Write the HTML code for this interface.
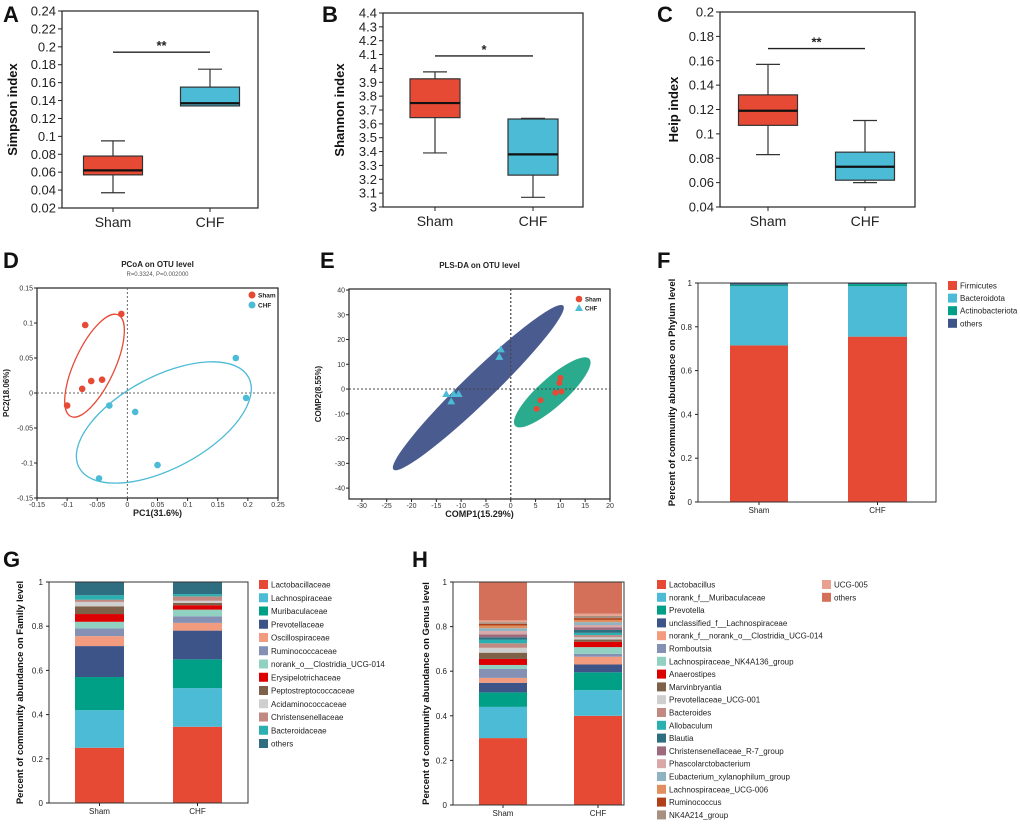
<!DOCTYPE html>
<html><head><meta charset="utf-8"><style>
body{margin:0;background:#fff}
svg{display:block;font-family:"Liberation Sans",Arial,sans-serif}
</style></head><body>
<svg id="fig" width="1020" height="824" viewBox="0 0 1020 824" xmlns="http://www.w3.org/2000/svg"></svg>
<script>
// ---------- DATA ----------
const boxGroups = ['Sham','CHF'];
// [whiskerLow, q1, median, q3, whiskerHigh]
const simpsonSham = [0.037,0.057,0.062,0.078,0.095];
const simpsonCHF  = [0.134,0.134,0.137,0.155,0.175];
const shannonSham = [3.39,3.645,3.75,3.925,3.975];
const shannonCHF  = [3.07,3.23,3.38,3.635,3.64];
const heipSham = [0.083,0.107,0.119,0.132,0.157];
const heipCHF  = [0.060,0.062,0.073,0.085,0.111];
const simpsonTicks = [0.02,0.04,0.06,0.08,0.1,0.12,0.14,0.16,0.18,0.2,0.22,0.24];
const shannonTicks = [3,3.1,3.2,3.3,3.4,3.5,3.6,3.7,3.8,3.9,4,4.1,4.2,4.3,4.4];
const heipTicks = [0.04,0.06,0.08,0.1,0.12,0.14,0.16,0.18,0.2];
const sigLevels = [0.194,4.09,0.170];
const sigLabels = ['**','*','**'];

const pcoaShamX = [-0.01,-0.07,-0.06,-0.042,-0.075,-0.1];
const pcoaShamY = [0.113,0.097,0.017,0.019,0.006,-0.018];
const pcoaChfX = [0.18,0.197,-0.03,0.013,0.05,-0.047];
const pcoaChfY = [0.05,-0.007,-0.018,-0.027,-0.103,-0.122];
const pcoaXTicks = [-0.15,-0.1,-0.05,0,0.05,0.1,0.15,0.2,0.25];
const pcoaYTicks = [-0.15,-0.1,-0.05,0,0.05,0.1,0.15];

const plsShamX = [10,9.8,9,10.2,6,5.2];
const plsShamY = [4.5,2.5,-1.5,-1,-4.5,-8];
const plsChfX = [-13,-12,-11.5,-10.5,-2,-2.3];
const plsChfY = [-2,-5,-2,-2,16,13];
const plsXTicks = [-30,-25,-20,-15,-10,-5,0,5,10,15,20];
const plsYTicks = [-40,-30,-20,-10,0,10,20,30,40];

const phylumNames = ['Firmicutes','Bacteroidota','Actinobacteriota','others'];
const phylumSham = [0.715,0.270,0.007,0.008];
const phylumCHF  = [0.755,0.230,0.010,0.005];

const familyNames = ['Lactobacillaceae','Lachnospiraceae','Muribaculaceae','Prevotellaceae','Oscillospiraceae','Ruminococcaceae','norank_o__Clostridia_UCG-014','Erysipelotrichaceae','Peptostreptococcaceae','Acidaminococcaceae','Christensenellaceae','Bacteroidaceae','others'];
const familySham = [0.25,0.17,0.15,0.14,0.045,0.035,0.03,0.035,0.035,0.02,0.01,0.02,0.06];
const familyCHF  = [0.345,0.175,0.13,0.13,0.035,0.03,0.03,0.02,0.01,0.01,0.02,0.01,0.055];

const genusNames = ['Lactobacillus','norank_f__Muribaculaceae','Prevotella','unclassified_f__Lachnospiraceae','norank_f__norank_o__Clostridia_UCG-014','Romboutsia','Lachnospiraceae_NK4A136_group','Anaerostipes','Marvinbryantia','Prevotellaceae_UCG-001','Bacteroides','Allobaculum','Blautia','Christensenellaceae_R-7_group','Phascolarctobacterium','Eubacterium_xylanophilum_group','Lachnospiraceae_UCG-006','Ruminococcus','NK4A214_group','UCG-005','others'];
const genusSham = [0.30,0.14,0.065,0.043,0.022,0.04,0.018,0.027,0.028,0.022,0.02,0.017,0.01,0.013,0.015,0.013,0.012,0.007,0.008,0.008,0.172];
const genusCHF  = [0.40,0.115,0.08,0.035,0.035,0.013,0.03,0.024,0.01,0.01,0.01,0.01,0.013,0.012,0.01,0.013,0.01,0.008,0.01,0.01,0.142];
const fracTicks = [0,0.2,0.4,0.6,0.8,1];

// ---------- helpers ----------
const NS='http://www.w3.org/2000/svg';
const svg=document.getElementById('fig');
function el(tag,a,parent,txt){const e=document.createElementNS(NS,tag);for(const k in a)e.setAttribute(k,a[k]);if(txt!==undefined)e.textContent=txt;(parent||svg).appendChild(e);return e;}
function lin(d0,d1,r0,r1){return v=>r0+(v-d0)/(d1-d0)*(r1-r0);}
function fmt(v){return String(+v.toFixed(4));}
const famColors=['#e64a35','#4cbbd6','#00a087','#3c5488','#f39b7f','#8491b4','#91d1c2','#dc0000','#7e6148','#cfcfcf','#c08a82','#2ab0b0','#2e6e80'];
const genColors=['#e64a35','#4cbbd6','#00a087','#3c5488','#f39b7f','#8491b4','#91d1c2','#dc0000','#7e6148','#cfcfcf','#c08a82','#2ab0b0','#2e6e80','#9c6a7c','#d9a8a8','#8fb3c0','#e0905e','#b0401a','#a89080','#e8a090','#d4705a'];
const phyColors=['#e64a35','#4cbbd6','#00a087','#3c5488'];

function letter(t,x,y){const e=el('text',{x:x,y:y,'font-size':22,'font-weight':'bold',fill:'#111'},svg,t);

}

// ---------- box plots ----------
function boxPanel(id,L,R,T,B,ticks,sham,chf,cx,bw,sig,sigLab,ylab,ylx){
  const g=el('g',{});
  
  
  const y=lin(ticks[0],ticks[ticks.length-1],B,T);
  el('rect',{x:L,y:T,width:R-L,height:B-T,fill:'none',stroke:'#222','stroke-width':1.2},g);
  ticks.forEach(t=>{el('line',{x1:L-4,x2:L,y1:y(t),y2:y(t),stroke:'#222'},g);
    const tl=el('text',{x:L-6,y:y(t)+4.5,'text-anchor':'end','font-size':13,fill:'#222'},g,fmt(t));
    
    });
  [sham,chf].forEach((d,i)=>{
    const c=cx[i];
    el('line',{x1:c,x2:c,y1:y(d[0]),y2:y(d[4]),stroke:'#333','stroke-width':1.2},g);
    el('line',{x1:c-12,x2:c+12,y1:y(d[0]),y2:y(d[0]),stroke:'#333','stroke-width':1.2},g);
    el('line',{x1:c-12,x2:c+12,y1:y(d[4]),y2:y(d[4]),stroke:'#333','stroke-width':1.2},g);
    const b=el('rect',{x:c-bw/2,y:y(d[3]),width:bw,height:y(d[1])-y(d[3]),fill:i?'#4cbbd6':'#e64a35',stroke:'#333','stroke-width':1.2},g);
    
    
    el('line',{x1:c-bw/2,x2:c+bw/2,y1:y(d[2]),y2:y(d[2]),stroke:'#111','stroke-width':2.2},g);
    el('line',{x1:c,x2:c,y1:B,y2:B+4,stroke:'#222'},g);
    const xl=el('text',{x:c,y:B+19,'text-anchor':'middle','font-size':14,fill:'#222'},g,boxGroups[i]);
    
    
  });
  el('line',{x1:cx[0],x2:cx[1],y1:y(sig),y2:y(sig),stroke:'#222','stroke-width':1.3},g);
  const st=el('text',{x:(cx[0]+cx[1])/2,y:y(sig)-2,'text-anchor':'middle','font-size':13,'font-weight':'bold',fill:'#222'},g,sigLab);
  
  
  const yt=el('text',{x:ylx,y:(T+B)/2,'text-anchor':'middle','font-size':13,'font-weight':'bold',fill:'#111',transform:`rotate(-90 ${ylx} ${(T+B)/2})`},g,ylab);
  
  
}
boxPanel('simpson',62,258,11,208,simpsonTicks,simpsonSham,simpsonCHF,[113,210],59,sigLevels[0],sigLabels[0],'Simpson index',17);
boxPanel('shannon',383,583,13,207,shannonTicks,shannonSham,shannonCHF,[435,533],50,sigLevels[1],sigLabels[1],'Shannon index',344);
boxPanel('heip',720,915,12,207,heipTicks,heipSham,heipCHF,[768,865],59,sigLevels[2],sigLabels[2],'Heip index',678);
letter('A',3,22);letter('B',322,22);letter('C',657,22);

// ---------- scatter panels ----------
function scatterPanel(id,L,R,T,B,xd,yd,xt,yt,xlab,ylab,title,sub){
  const g=el('g',{});
  
  
  const x=lin(xd[0],xd[1],L,R), y=lin(yd[0],yd[1],B,T);
  el('rect',{x:L,y:T,width:R-L,height:B-T,fill:'none',stroke:'#222','stroke-width':1.2},g);
  xt.forEach(t=>{el('line',{x1:x(t),x2:x(t),y1:B,y2:B+3,stroke:'#222'},g);
    const e=el('text',{x:x(t),y:B+9,'text-anchor':'middle','font-size':7,fill:'#333'},g,fmt(t));
    
    });
  yt.forEach(t=>{el('line',{x1:L-3,x2:L,y1:y(t),y2:y(t),stroke:'#222'},g);
    const e=el('text',{x:L-4,y:y(t)+2.5,'text-anchor':'end','font-size':7,fill:'#333'},g,fmt(t));
    
    });
  el('line',{x1:x(0),x2:x(0),y1:T,y2:B,stroke:'#666','stroke-dasharray':'2,2'},g);
  el('line',{x1:L,x2:R,y1:y(0),y2:y(0),stroke:'#666','stroke-dasharray':'2,2'},g);
  const xa=el('text',{x:(L+R)/2,y:B+18,'text-anchor':'middle','font-size':9,'font-weight':'bold',fill:'#222'},g,xlab);
  
  
  const yc=(T+B)/2, yx=L-28;
  const ya=el('text',{x:yx,y:yc,'text-anchor':'middle','font-size':8,'font-weight':'bold',fill:'#222',transform:`rotate(-90 ${yx} ${yc})`},g,ylab);
  
  
  const tt=el('text',{x:(L+R)/2,y:T-21,'text-anchor':'middle','font-size':8,'font-weight':'bold',fill:'#222'},g,title);
  
  
  if(sub){const s=el('text',{x:(L+R)/2,y:T-12,'text-anchor':'middle','font-size':6,fill:'#555'},g,sub);
    
    }
  return {g,x,y};
}
function mean(a){return a.reduce((s,v)=>s+v,0)/a.length;}
// D PCoA
{
 const p=scatterPanel('pcoa',37,278,288,498,[-0.15,0.25],[-0.15,0.15],pcoaXTicks,pcoaYTicks,'PC1(31.6%)','PC2(18.06%)','PCoA on OTU level','R=0.3324, P=0.002000');
 const cs=[p.x(mean(pcoaShamX)),p.y(mean(pcoaShamY))], cc=[p.x(mean(pcoaChfX)),p.y(mean(pcoaChfY))];
 const e1=el('ellipse',{cx:cs[0]+3,cy:cs[1],rx:56,ry:20,fill:'none',stroke:'#e64a35','stroke-width':1.3,transform:`rotate(-65 ${cs[0]+3} ${cs[1]})`},p.g);
 
 
 const e2=el('ellipse',{cx:cc[0],cy:cc[1]+3,rx:96,ry:46,fill:'none',stroke:'#4cbbd6','stroke-width':1.3,transform:`rotate(-28 ${cc[0]} ${cc[1]+3})`},p.g);
 
 
 pcoaShamX.forEach((v,i)=>{const c=el('circle',{cx:p.x(v),cy:p.y(pcoaShamY[i]),r:3.3,fill:'#e64a35'},p.g);
   
   });
 pcoaChfX.forEach((v,i)=>{const c=el('circle',{cx:p.x(v),cy:p.y(pcoaChfY[i]),r:3.3,fill:'#4cbbd6'},p.g);
   
   });
 el('circle',{cx:252,cy:295,r:3.5,fill:'#e64a35'},p.g);
 const l1=el('text',{x:258,y:297.5,'font-size':6.5,'font-weight':'bold',fill:'#222'},p.g,'Sham');
 
 
 el('circle',{cx:252,cy:305,r:3.5,fill:'#4cbbd6'},p.g);
 const l2=el('text',{x:258,y:307.5,'font-size':6.5,'font-weight':'bold',fill:'#222'},p.g,'CHF');
 
 
}
// E PLS-DA
{
 const p=scatterPanel('plsda',349,610,289,499,[-32.6,20],[-44.4,40.4],plsXTicks,plsYTicks,'COMP1(15.29%)','COMP2(8.55%)','PLS-DA on OTU level','');
 const cb=[p.x(mean(plsChfX))+10,p.y(mean(plsChfY))+6];
 const e1=el('ellipse',{cx:cb[0],cy:cb[1],rx:118,ry:15,fill:'#4a5b8f',transform:`rotate(-44 ${cb[0]} ${cb[1]})`},p.g);
 
 
 const cg=[p.x(mean(plsShamX)),p.y(mean(plsShamY))];
 const e2=el('ellipse',{cx:cg[0],cy:cg[1],rx:50,ry:14,fill:'#2aab8e',transform:`rotate(-42 ${cg[0]} ${cg[1]})`},p.g);
 
 
 el('line',{x1:p.x(0),x2:p.x(0),y1:289,y2:499,stroke:'#444','stroke-dasharray':'2,2'},p.g);
 el('line',{x1:349,x2:610,y1:p.y(0),y2:p.y(0),stroke:'#444','stroke-dasharray':'2,2'},p.g);
 plsShamX.forEach((v,i)=>{const c=el('circle',{cx:p.x(v),cy:p.y(plsShamY[i]),r:3,fill:'#e64a35'},p.g);
   
   });
 plsChfX.forEach((v,i)=>{const X=p.x(v),Y=p.y(plsChfY[i]);
   const t=el('polygon',{points:`${X},${Y-4} ${X-4},${Y+3} ${X+4},${Y+3}`,fill:'#4cbbd6'},p.g);
   
   });
 el('circle',{cx:579,cy:299,r:3.3,fill:'#e64a35'},p.g);
 const l1=el('text',{x:585,y:301.5,'font-size':6,'font-weight':'bold',fill:'#222'},p.g,'Sham');
 
 
 el('polygon',{points:'579,304 575,311 583,311',fill:'#4cbbd6'},p.g);
 const l2=el('text',{x:585,y:310.5,'font-size':6,'font-weight':'bold',fill:'#222'},p.g,'CHF');
 
 
}
letter('D',3,268);letter('E',320,268);letter('F',657,268);

// ---------- stacked bars ----------
function stackPanel(id,L,R,T,B,bars,names,series,colors,ylab,ylx,legX,legY,legStep,col2Start,col2X){
  const g=el('g',{});
  
  
  const y=lin(0,1,B,T);
  ['Sham','CHF'].forEach((gname,bi)=>{
    let acc=0;
    series[bi].forEach((v,k)=>{
      const r=el('rect',{x:bars[bi][0],y:y(acc+v),width:bars[bi][1]-bars[bi][0],height:y(acc)-y(acc+v),fill:colors[k]},g);
      
      
      acc+=v;});
    const c=(bars[bi][0]+bars[bi][1])/2;
    el('line',{x1:c,x2:c,y1:B,y2:B+3,stroke:'#222'},g);
    const xl=el('text',{x:c,y:B+11,'text-anchor':'middle','font-size':8,fill:'#222'},g,gname);
    
    
  });
  el('rect',{x:L,y:T,width:R-L,height:B-T,fill:'none',stroke:'#333','stroke-width':1},g);
  fracTicks.forEach(t=>{el('line',{x1:L-3,x2:L,y1:y(t),y2:y(t),stroke:'#222'},g);
    const e=el('text',{x:L-6,y:y(t)+3,'text-anchor':'end','font-size':8,fill:'#222'},g,fmt(t));
    
    });
  const yc=(T+B)/2;
  const ya=el('text',{x:ylx,y:yc,'text-anchor':'middle','font-size':9.5,'font-weight':'bold',fill:'#111',transform:`rotate(-90 ${ylx} ${yc})`},g,ylab);
  
  
  names.forEach((n,k)=>{
    let lx=legX, ly=legY+k*legStep;
    if(col2Start!==undefined && k>=col2Start){lx=col2X; ly=legY+(k-col2Start)*legStep;}
    el('rect',{x:lx,y:ly-4,width:9,height:9,fill:colors[k]},g);
    const t=el('text',{x:lx+12,y:ly+3.5,'font-size':8,fill:'#222'},g,n);
    
    
  });
}
stackPanel('phylum',698,936,283,502,[[730,788],[848,907]],phylumNames,[phylumSham,phylumCHF],phyColors,'Percent of community abundance on Phylum level',675,948,285,12.6);
stackPanel('family',49,248,582,803,[[75,124],[173,222]],familyNames,[familySham,familyCHF],famColors,'Percent of community abundance on Family level',23,259,584,13.25);
stackPanel('genus',453,624,582,805,[[479,527],[574,622]],genusNames,[genusSham,genusCHF],genColors,'Percent of community abundance on Genus level',429,657,584,12.8,19,822);
letter('G',3,567);letter('H',412,567);
</script>
</body></html>
